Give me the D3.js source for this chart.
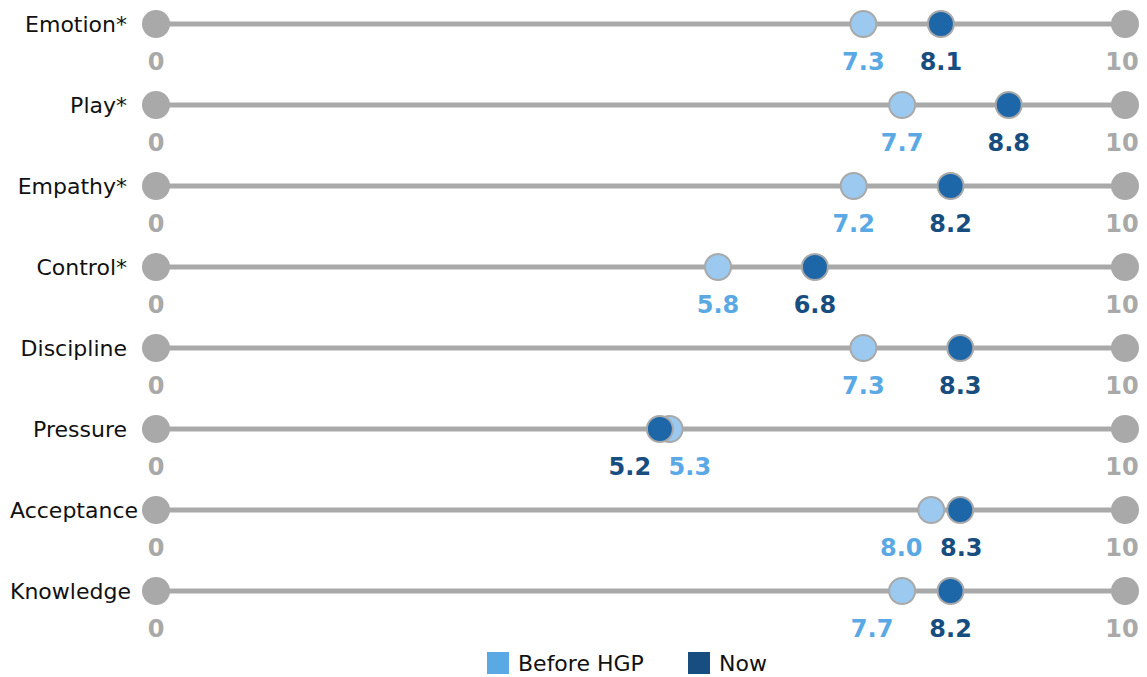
<!DOCTYPE html>
<html><head><meta charset="utf-8">
<script src="https://cdn.jsdelivr.net/npm/d3@7"></script>
<style>
html,body{margin:0;padding:0;background:#fff;}
svg{display:block;}
</style></head>
<body>
<svg id="chart" width="1147" height="677"></svg>
<script>
const categories = ["Emotion*","Play*","Empathy*","Control*","Discipline","Pressure","Acceptance","Knowledge"];
const beforeValues = [7.3, 7.7, 7.2, 5.8, 7.3, 5.3, 8.0, 7.7];
const nowValues    = [8.1, 8.8, 8.2, 6.8, 8.3, 5.2, 8.3, 8.2];
const seriesNames = ["Before HGP","Now"];
const axisTicks = [0, 10];

const W = 1147, H = 677;
const svg = d3.select("#chart");
const font = "'DejaVu Sans', Verdana, sans-serif";
const grey = "#a9a9a9";
const beforeFill = "#9bc9ef", beforeText = "#5ba9e4";
const nowFill = "#1d67a9", nowText = "#174d7f";

const x = d3.scaleLinear().domain([0,10]).range([156,1125]);
const y = d3.scalePoint().domain(categories).range([24,591]);

const rows = svg.selectAll("g.row").data(categories).join("g").attr("class","row")
  .attr("transform", d => `translate(0,${y(d)})`);

rows.append("line").attr("x1", x(0)).attr("x2", x(10)).attr("y1",0).attr("y2",0)
  .attr("stroke", grey).attr("stroke-width", 5);

rows.selectAll("circle.end").data(axisTicks).join("circle").attr("class","end")
  .attr("cx", d => x(d)).attr("cy",0).attr("r",14).attr("fill", grey);

rows.selectAll("text.tick").data(axisTicks).join("text").attr("class","tick")
  .attr("x", d => x(d) - (d===10?3:0)).attr("y",46)
  .attr("text-anchor","middle").attr("font-family",font).attr("font-weight","bold")
  .attr("font-size",24).attr("fill", grey).text(d => d);

rows.append("text").attr("class","cat").attr("y",8)
  .attr("font-family",font).attr("font-size",22).attr("fill","#111").text(d => d)
  .each(function(){
    const w = this.getComputedTextLength();
    d3.select(this).attr("x", Math.max(10, 127 - w));
  });

categories.forEach((c,i) => {
  const g = rows.filter(d => d === c);
  const b = beforeValues[i], n = nowValues[i];
  g.append("circle").attr("cx", x(b)).attr("cy",0).attr("r",13)
    .attr("fill", beforeFill).attr("stroke", grey).attr("stroke-width",2);
  g.append("circle").attr("cx", x(n)).attr("cy",0).attr("r",13)
    .attr("fill", nowFill).attr("stroke", grey).attr("stroke-width",2);
  let lb = x(b), ln = x(n);
  const minSep = 60;
  if (Math.abs(lb - ln) < minSep) {
    if (lb <= ln) {
      lb -= 30; if (ln - lb < minSep) ln = lb + minSep;
    } else {
      ln -= 30; if (lb - ln < minSep) lb = ln + minSep;
    }
  }
  g.append("text").attr("x", lb).attr("y",46).attr("text-anchor","middle")
    .attr("font-family",font).attr("font-weight","bold").attr("font-size",24)
    .attr("fill", beforeText).text(d3.format(".1f")(b));
  g.append("text").attr("x", ln).attr("y",46).attr("text-anchor","middle")
    .attr("font-family",font).attr("font-weight","bold").attr("font-size",24)
    .attr("fill", nowText).text(d3.format(".1f")(n));
});

const legColors = ["#5ba9e4","#174d7f"];
const legX = [487, 688];
const leg = svg.selectAll("g.leg").data(seriesNames).join("g").attr("class","leg")
  .attr("transform",(d,i)=>`translate(${legX[i]},652)`);
leg.append("rect").attr("width",22).attr("height",22).attr("fill",(d,i)=>legColors[i]);
leg.append("text").attr("x",31).attr("y",19).attr("font-family",font).attr("font-size",22)
  .attr("fill","#111").text(d=>d);
</script>
</body></html>
